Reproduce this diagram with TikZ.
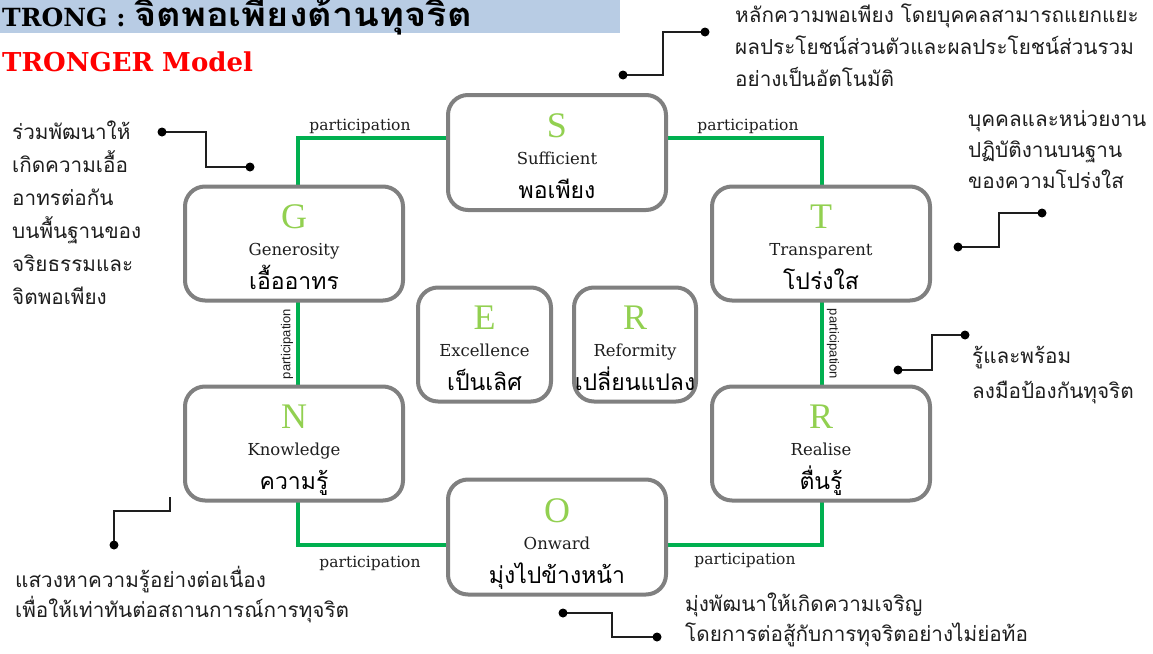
\documentclass[tikz,border=0pt]{standalone}
\usepackage{fontspec}
\setmainfont{DejaVu Serif}
\newfontfamily\thai[Script=Thai]{Loma}
\newfontfamily\thaititle[Script=Thai,FakeStretch=1.15]{Loma}
\newfontfamily\lserif{Liberation Serif}
\newfontfamily\lsans{Liberation Sans}
\usetikzlibrary{calc}
\definecolor{boxgray}{RGB}{128,128,128}
\definecolor{pgreen}{RGB}{0,176,80}
\definecolor{lgreen}{RGB}{146,208,80}
\definecolor{titlebg}{RGB}{184,204,228}
\definecolor{anncol}{RGB}{30,30,30}
\definecolor{tred}{RGB}{255,0,0}
\begin{document}
\begin{tikzpicture}[x=1pt,y=-1pt,
  box/.style={fill=white, minimum height=114pt, inner sep=0pt, outer sep=0pt, rounded corners=20pt},
  boxline/.style={draw=boxgray, line width=4pt, rounded corners=20pt},
  letter/.style={anchor=base, text=lgreen, font=\lserif\fontsize{36}{36}\selectfont, inner sep=0pt},
  eng/.style={anchor=base, text=anncol, font=\fontsize{16.5}{16.5}\selectfont, inner sep=0pt},
  thaibox/.style={anchor=base, text=black, font=\thai\fontsize{23}{23}\selectfont, inner sep=0pt},
  gline/.style={draw=pgreen, line width=4pt},
  plabel/.style={text=anncol, font=\fontsize{15.5}{15.5}\selectfont, inner sep=0pt},
  vlabel/.style={text=anncol, font=\lsans\fontsize{13}{13}\selectfont, inner sep=0pt},
  ann/.style={anchor=north west, align=left, text=anncol, inner sep=0pt, font=\thai\fontsize{20.7}{32}\selectfont},
  aline/.style={draw=anncol, line width=1.3pt},
  dot/.style={fill=black}
]
\useasboundingbox (0,0) rectangle (1153,653);
\fill[white] (0,0) rectangle (1153,653);
% title
\fill[titlebg] (0,0) rectangle (620,33);
\node[anchor=base west, inner sep=0pt] (title) at (2,26) {\fontsize{25}{25}\selectfont\bfseries TRONG : {\thaititle\fontsize{33}{33}\selectfont จิตพอเพียงต้านทุจริต}};
\node[anchor=west, inner sep=0pt, text=tred] (sub) at (2,62) {\fontsize{26}{26}\selectfont\bfseries TRONGER Model};

% boxes
\node[box, minimum width=218pt, minimum height=115pt] (S) at (557,152.5) {};
\node[box, minimum width=218pt] (G) at (294,243.5) {};
\node[box, minimum width=218pt] (T) at (821,243.5) {};
\node[box, minimum width=133pt] (E) at (484.5,344.5) {};
\node[box, minimum width=122pt] (Rm) at (635,344.5) {};
\node[box, minimum width=218pt] (N) at (294,443.5) {};
\node[box, minimum width=218pt] (R) at (821,443.5) {};
\node[box, minimum width=218pt, minimum height=115pt] (O) at (557,537) {};

% green connectors
\draw[gline] ([yshift=15pt]S.west) -| ([xshift=4pt]G.north);
\draw[gline] ([yshift=15pt]S.east) -| ([xshift=1pt]T.north);
\draw[gline] ([xshift=4pt]G.south) -- ([xshift=4pt]N.north);
\draw[gline] ([xshift=1pt]T.south) -- ([xshift=1pt]R.north);
\draw[gline] ([xshift=4pt]N.south) |- ([yshift=-8pt]O.west);
\draw[gline] ([xshift=1pt]R.south) |- ([yshift=-8pt]O.east);
% box outlines
\foreach \b in {S,G,T,E,Rm,N,R,O}{\draw[boxline] (\b.north west) rectangle (\b.south east);}

% connector labels
\node[plabel] (pl1) at (360,126) {participation};
\node[plabel] (pl2) at (748,126) {participation};
\node[plabel] (pl3) at (370,563) {participation};
\node[plabel] (pl4) at (745,560) {participation};
\node[vlabel, rotate=90] (pl5) at (287,344) {participation};
\node[vlabel, rotate=-90] (pl6) at (833,344) {participation};

% box texts
\foreach \b/\l/\e/\t in {S/S/Sufficient/พอเพียง, G/G/Generosity/เอื้ออาทร, T/T/Transparent/โปร่งใส, E/E/Excellence/เป็นเลิศ, Rm/R/Reformity/เปลี่ยนแปลง, N/N/Knowledge/ความรู้, R/R/Realise/ตื่นรู้, O/O/Onward/มุ่งไปข้างหน้า}{
  \node[letter] (\b-l) at ($(\b.center)+(0,-15)$) {\l};
  \node[eng] (\b-e) at ($(\b.center)+(0,12)$) {\e};
  \node[thaibox] (\b-t) at ($(\b.center)+(0,46)$) {\t};
}

% annotations
\node[ann] (a1) at (735,4) {หลักความพอเพียง โดยบุคคลสามารถแยกแยะ\\ผลประโยชน์ส่วนตัวและผลประโยชน์ส่วนรวม\\อย่างเป็นอัตโนมัติ};
\coordinate (a1s) at (623,75); \coordinate (a1e) at (705,32);
\draw[aline] (a1s) -- ++(40,0) |- (a1e);
\fill[dot] (a1s) circle (4.5pt); \fill[dot] (a1e) circle (4.5pt);

\node[ann, font=\thai\fontsize{20.7}{33}\selectfont] (a2) at (12,121) {ร่วมพัฒนาให้\\เกิดความเอื้อ\\อาทรต่อกัน\\บนพื้นฐานของ\\จริยธรรมและ\\จิตพอเพียง};
\coordinate (a2s) at (162,132); \coordinate (a2e) at (250,167);
\draw[aline] (a2s) -- ++(44,0) |- (a2e);
\fill[dot] (a2s) circle (4.5pt); \fill[dot] (a2e) circle (4.5pt);

\node[ann, font=\thai\fontsize{20.7}{31}\selectfont] (a3) at (968,110) {บุคคลและหน่วยงาน\\ปฏิบัติงานบนฐาน\\ของความโปร่งใส};
\coordinate (a3s) at (958,247); \coordinate (a3e) at (1042,213);
\draw[aline] (a3s) -- ++(41,0) |- (a3e);
\fill[dot] (a3s) circle (4.5pt); \fill[dot] (a3e) circle (4.5pt);

\node[ann, font=\thai\fontsize{20.7}{35}\selectfont] (a4) at (972,346) {รู้และพร้อม\\ลงมือป้องกันทุจริต};
\coordinate (a4s) at (898,370); \coordinate (a4e) at (965,335);
\draw[aline] (a4s) -- ++(34,0) |- (a4e);
\fill[dot] (a4s) circle (4.5pt); \fill[dot] (a4e) circle (4.5pt);

\node[ann, font=\thai\fontsize{20.7}{30}\selectfont] (a5) at (15,566) {แสวงหาความรู้อย่างต่อเนื่อง\\เพื่อให้เท่าทันต่อสถานการณ์การทุจริต};
\coordinate (a5s) at (114,545); \coordinate (a5e) at (170,497);
\draw[aline] (a5s) -- ++(0,-34) -| (a5e);
\fill[dot] (a5s) circle (4.5pt);

\node[ann, font=\thai\fontsize{20.7}{30}\selectfont] (a6) at (685,593) {มุ่งพัฒนาให้เกิดความเจริญ\\โดยการต่อสู้กับการทุจริตอย่างไม่ย่อท้อ};
\coordinate (a6s) at (563,613); \coordinate (a6e) at (657,637);
\draw[aline] (a6s) -- ++(49,0) |- (a6e);
\fill[dot] (a6s) circle (4.5pt); \fill[dot] (a6e) circle (4.5pt);
\end{tikzpicture}
\end{document}
